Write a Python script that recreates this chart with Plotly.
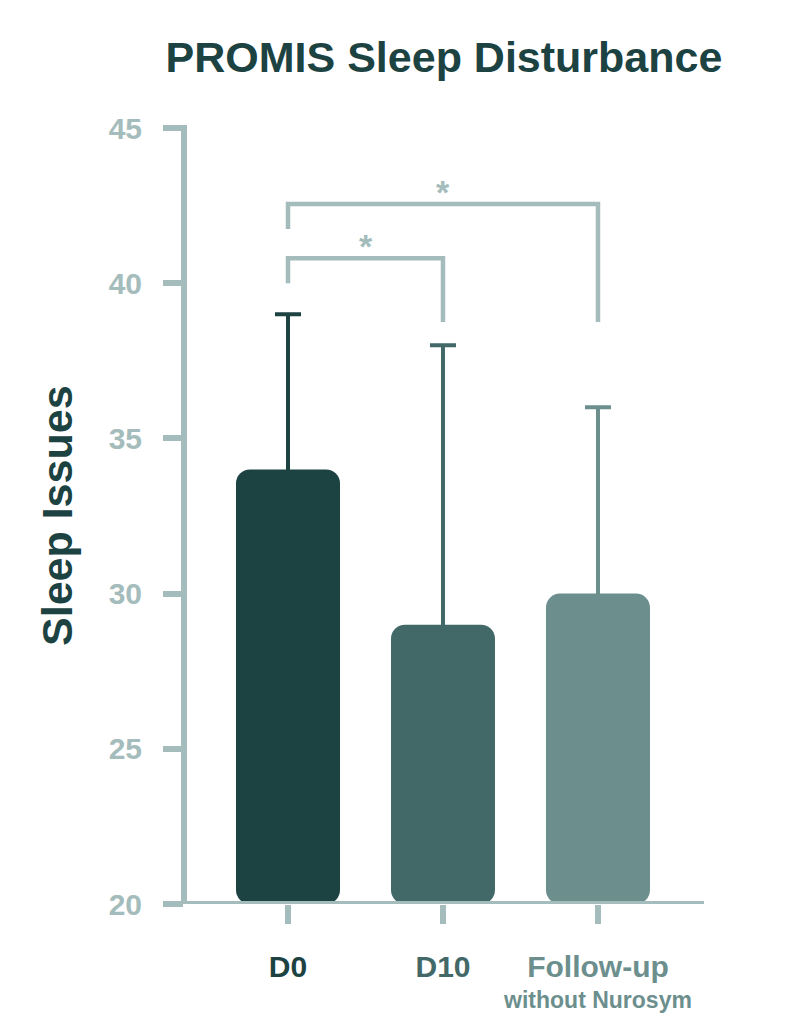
import plotly.graph_objects as go

# ---- data ----
categories = ["D0", "D10", "Follow-up"]
tick_labels = [
    "<span style='color:#1c4242;font-size:30px'>D0</span>",
    "<span style='color:#426868;font-size:30px'>D10</span>",
    "<span style='color:#6c8f8e;font-size:30px'>Follow-up</span><br><span style='color:#6c8f8e;font-size:23px'>without Nurosym</span>",
]
means = [34, 29, 30]
err_plus = [5, 9, 6]
bar_colors = ["#1c4242", "#426868", "#6c8f8e"]

# significance brackets (category index pairs, levels in axis units)
sig_from = [0, 0]
sig_to = [1, 2]
sig_level = [40.8, 42.55]
sig_left_end = [40.0, 41.75]
sig_right_end = [38.75, 38.75]
sig_label = ["*", "*"]

y_ticks = [20, 25, 30, 35, 40, 45]

LIGHT = "#a4bcbb"
DARK = "#1c4242"
FONT = "Liberation Sans"
HIDE_LOWER_CAP = 0.3  # lower error cap tucked inside the bar (style only)

fig = go.Figure()
for i, cat in enumerate(categories):
    fig.add_trace(go.Bar(
        x=[i], y=[means[i] - 20], base=[20],
        width=0.671,
        marker=dict(color=bar_colors[i], line=dict(width=0), cornerradius=14),
        error_y=dict(type="data", symmetric=False, array=[err_plus[i]], arrayminus=[HIDE_LOWER_CAP],
                     color=bar_colors[i], thickness=4, width=13),
        showlegend=False,
    ))

shapes = []
# axis lines
shapes.append(dict(type="line", xref="paper", yref="paper", x0=0, x1=0, y0=0, y1=1 + 3/776,
                   line=dict(color=LIGHT, width=6), layer="above"))
shapes.append(dict(type="line", xref="paper", yref="y", x0=-20/520, x1=1, y0=20, y1=20,
                   line=dict(color=LIGHT, width=6), layer="above"))
annotations = []
for a, b, lvl, le, re, lab in zip(sig_from, sig_to, sig_level, sig_left_end, sig_right_end, sig_label):
    shapes.append(dict(type="path", xref="x", yref="y",
                       path=f"M {a},{le} L {a},{lvl} L {b},{lvl} L {b},{re}",
                       line=dict(color=LIGHT, width=4.5)))
    annotations.append(dict(x=(a + b) / 2, y=lvl, xref="x", yref="y", text=f"<b>{lab}</b>", showarrow=False,
                            yanchor="bottom", yshift=-9,
                            font=dict(family=FONT, size=34, color=LIGHT)))

annotations.append(dict(x=(49 - 176) / 520, y=0.5, xref="paper", yref="paper",
                        text="<b>Sleep Issues</b>", textangle=-90, showarrow=False,
                        xanchor="center", yanchor="middle",
                        font=dict(family=FONT, size=43, color=DARK)))

fig.update_layout(
    width=800, height=1029,
    margin=dict(l=176, r=104, t=120, b=133),
    paper_bgcolor="white", plot_bgcolor="white",
    barmode="overlay",
    title=dict(text="<b>PROMIS Sleep Disturbance</b>", x=0.5, xref="paper",
               y=1 - 49 / 1029, yref="container", yanchor="middle",
               font=dict(family=FONT, size=43, color=DARK)),
    shapes=shapes, annotations=annotations,
    xaxis=dict(range=[-0.671, 2.684], tickmode="array", tickvals=list(range(len(categories))),
               ticktext=tick_labels, showgrid=False, zeroline=False, showline=False,
               ticks="outside", ticklen=19, tickwidth=6, tickcolor=LIGHT,
               ticklabelstandoff=24,
               tickfont=dict(family=FONT, size=24, color=DARK, weight="bold")),
    yaxis=dict(range=[20, 45], tickvals=y_ticks, showgrid=False, zeroline=False, showline=False,
               ticks="outside", ticklen=20, tickwidth=6, tickcolor=LIGHT,
               ticklabelstandoff=15,
               tickfont=dict(family=FONT, size=30, color=LIGHT, weight="bold")),
)

fig.write_html("out.html")
